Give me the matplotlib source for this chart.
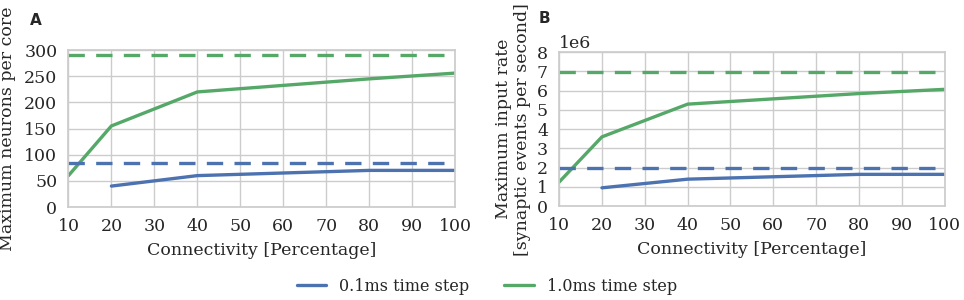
import matplotlib
matplotlib.use("Agg")
import matplotlib.pyplot as plt
import seaborn as sns

sns.set_theme(style="whitegrid")
plt.rcParams['font.family'] = ['DejaVu Serif']

conn_blue = [20, 40, 80, 100]
conn_green = [10, 20, 40, 80, 100]
neurons_01 = [40, 60, 70, 70]
neurons_10 = [60, 155, 220, 245, 256]
neurons_max_01 = 84
neurons_max_10 = 290
rate_01 = [0.95e6, 1.4e6, 1.65e6, 1.65e6]
rate_10 = [1.25e6, 3.6e6, 5.3e6, 5.85e6, 6.07e6]
rate_max_01 = 2.0e6
rate_max_10 = 6.95e6

blue = "#4C72B0"
green = "#55A868"
LW = 2.4
DASH = (4.9, 3.4)

fig = plt.figure(figsize=(9.64, 3.0), dpi=100)
axA = fig.add_axes([0.071, 0.31, 0.401, 0.523])
axB = fig.add_axes([0.580, 0.313, 0.400, 0.513])

for ax in (axA, axB):
    for s in ax.spines.values():
        s.set_color("#cccccc")
    ax.grid(True, color="#cccccc", linewidth=1)
    ax.tick_params(labelsize=12.5, pad=2)
    ax.set_xlim(10, 100)
    ax.set_xticks(range(10, 101, 10))
    ax.set_xlabel("Connectivity [Percentage]", fontsize=12.5, labelpad=5)

l1, = axA.plot(conn_blue, neurons_01, color=blue, lw=LW, label="0.1ms time step")
l2, = axA.plot(conn_green, neurons_10, color=green, lw=LW, label="1.0ms time step")
axA.axhline(neurons_max_01, color=blue, lw=LW, ls="--", dashes=DASH)
axA.axhline(neurons_max_10, color=green, lw=LW, ls="--", dashes=DASH)
axA.set_ylim(0, 300)
axA.set_yticks(range(0, 301, 50))
axA.set_ylabel("Maximum neurons per core", fontsize=12.5, labelpad=6)

axB.plot(conn_blue, rate_01, color=blue, lw=LW)
axB.plot(conn_green, rate_10, color=green, lw=LW)
axB.axhline(rate_max_01, color=blue, lw=LW, ls="--", dashes=DASH)
axB.axhline(rate_max_10, color=green, lw=LW, ls="--", dashes=DASH)
axB.set_ylim(0, 8e6)
axB.set_yticks([i * 1e6 for i in range(9)])
axB.yaxis.get_offset_text().set_fontsize(12.5)
axB.set_ylabel("Maximum input rate\n[synaptic events per second]", fontsize=12.5, labelpad=4)

fig.text(0.031, 0.917, "A", fontsize=11, fontweight="bold", family="DejaVu Sans")
fig.text(0.559, 0.923, "B", fontsize=11, fontweight="bold", family="DejaVu Sans")

fig.legend(handles=[l1, l2], loc="center", bbox_to_anchor=(0.505, 0.045), ncol=2,
           frameon=False, fontsize=11.5, handlelength=1.85, handletextpad=0.8,
           columnspacing=2.2)

fig.savefig("out.png", dpi=100)
